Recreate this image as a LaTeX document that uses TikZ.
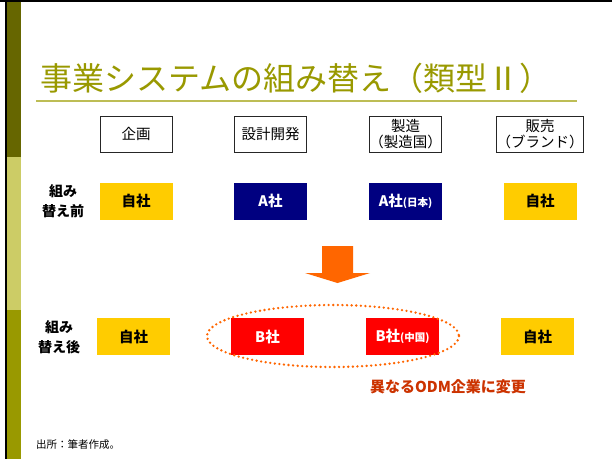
\documentclass[tikz,border=0pt]{standalone}
\usepackage{fontspec}
\newfontfamily\cjk{Noto Sans CJK JP}
\definecolor{darkolive}{HTML}{666600}
\definecolor{lightolive}{HTML}{CCCC66}
\definecolor{midolive}{HTML}{999900}
\definecolor{ruleolive}{HTML}{BDBD55}
\definecolor{gold}{HTML}{FFCC00}
\definecolor{navyblue}{HTML}{000080}
\definecolor{brightred}{HTML}{FF0000}
\definecolor{arroworange}{HTML}{FF6600}
\definecolor{notered}{HTML}{CC3300}
\tikzset{
  hdrbox/.style={draw=black!85, line width=0.8pt, fill=white, minimum width=72pt, minimum height=36pt, inner sep=0pt, align=center, font=\cjk\fontsize{14.5}{16}\selectfont},
  cellbox/.style={minimum width=73pt, minimum height=37pt, inner sep=0pt, align=center, font=\cjk\bfseries\fontsize{14.5}{16}\selectfont},
  selfbox/.style={cellbox, fill=gold, text=black},
  abox/.style={cellbox, fill=navyblue, text=white},
  bbox/.style={cellbox, fill=brightred, text=white},
  rowlabel/.style={align=center, font=\cjk\bfseries\fontsize{14}{20}\selectfont, inner sep=0pt},
}
\newcommand{\smallpar}[1]{{\fontsize{10.5}{11}\selectfont #1}}
\begin{document}
\begin{tikzpicture}[x=1pt,y=-1pt]
\useasboundingbox (0,0) rectangle (612,459);
\fill[white] (0,0) rectangle (612,459);
% frame and side bar
\fill[black] (0,0) rectangle (612,2);
\fill[black] (4.5,0) rectangle (7.3,459);
\fill[darkolive] (7.3,2) rectangle (20.5,157);
\fill[lightolive] (7.3,157) rectangle (20.5,310);
\fill[midolive] (7.3,310) rectangle (20.5,459);
% title
\node[anchor=west, inner sep=0pt, text=midolive, font=\cjk\fontsize{32}{36}\selectfont] (title) at (40,78) {事業システムの組み替え（類型Ⅱ）};
\draw[ruleolive, line width=2pt] (36,101) -- (577,101);
% header boxes
\node[hdrbox] (h1) at (136,134) {企画};
\node[hdrbox] (h2) at (270.5,134) {設計開発};
\node[hdrbox] (h3) at (405.5,134) {製造\\（製造国）};
\node[hdrbox] (h4) at (540,134) {販売\\（ブランド）};
% before row
\node[rowlabel] (lb1) at (63,201) {組み\\替え前};
\node[selfbox] (r1a) at (136,201) {自社};
\node[abox] (r1b) at (270.5,201) {A社};
\node[abox] (r1c) at (405.5,201) {A社\smallpar{(日本)}};
\node[selfbox] (r1d) at (540,201) {自社};
% arrow
\fill[arroworange] (322,246) -- (353,246) -- (353,273) -- (370,273) -- (337.5,283) -- (305,273) -- (322,273) -- cycle;
% after row
\node[rowlabel] (lb2) at (59,337) {組み\\替え後};
\node[selfbox] (r2a) at (133.5,336.5) {自社};
\node[bbox] (r2b) at (267.5,336.5) {B社};
\node[bbox] (r2c) at (402.5,336.5) {B社\smallpar{(中国)}};
\node[selfbox] (r2d) at (537.5,336.5) {自社};
% dotted ellipse
\draw[arroworange, line width=2.6pt, line cap=round, dash pattern=on 0pt off 4.6pt] (333,336) ellipse [x radius=126, y radius=31];
\node[text=notered, font=\cjk\bfseries\fontsize{15}{17}\selectfont, inner sep=0pt] (note) at (448,387) {異なるODM企業に変更};
% source
\node[anchor=west, inner sep=0pt, font=\cjk\fontsize{10.5}{12}\selectfont] (src) at (36,445) {出所：筆者作成。};
\end{tikzpicture}
\end{document}
